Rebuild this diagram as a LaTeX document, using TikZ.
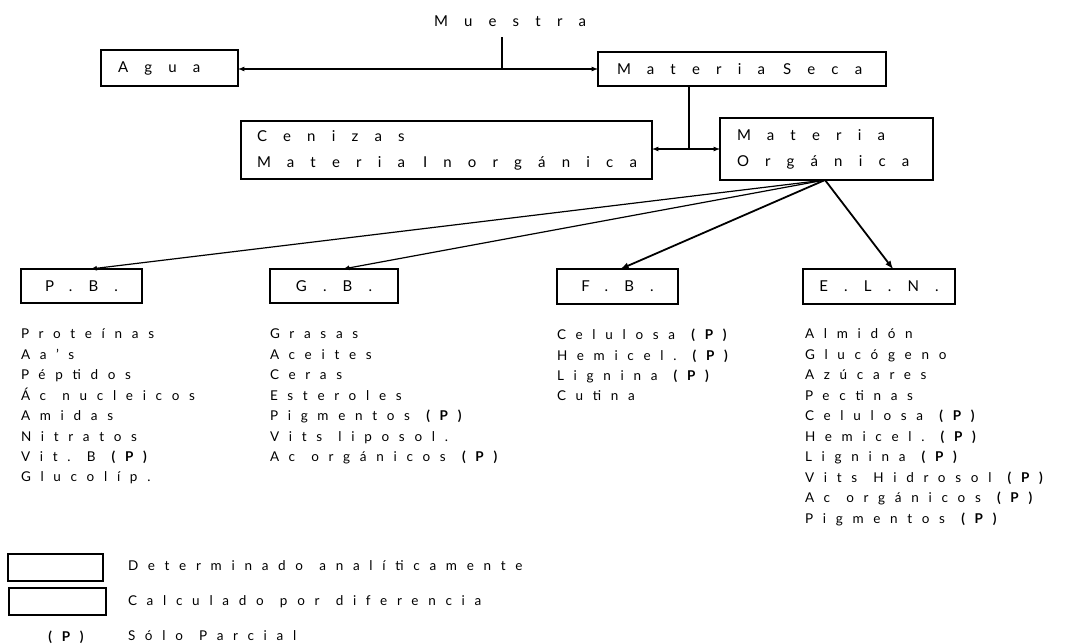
\documentclass[tikz,border=0pt]{standalone}
\usepackage{fontspec}
\setmainfont{Lato}
\usepackage{tikz}
\usetikzlibrary{positioning}
\usetikzlibrary{arrows}

\newcommand{\rotulo}{\fontsize{15}{26}\selectfont\addfontfeature{LetterSpace=108}}
\newcommand{\lista}{\fontsize{13.5}{20.45}\selectfont\addfontfeature{LetterSpace=72}}
\newcommand{\blanco}{\hspace{1.2em}}
\newcommand{\parcial}{{\bfseries(P)}}

\tikzset{
  medido/.style={draw,line width=1.2pt,anchor=north west,inner sep=0pt,align=left,font=\rotulo},
  calculado/.style={medido,line width=2.6pt},
  renglones/.style={anchor=north west,inner sep=0pt,align=left,font=\lista},
  flecha/.style={->,>=latex,line width=1.2pt}
}

\begin{document}
\begin{tikzpicture}[x=1pt,y=-1pt,every node/.style={outer sep=0pt}]
	\useasboundingbox (0,0) rectangle (1086,643);
	% muestra y primera division
	\node (muestra) [inner sep=0pt,font=\rotulo] at (510,21) {Muestra};
	\node (agua) [calculado,minimum width=137pt,minimum height=36pt,text width=103pt] at (101,50) {Agua};
	\node (seca) [medido,minimum width=288pt,minimum height=34pt,text width=250pt] at (598,52) {Materia\blanco Seca};
	\coordinate (bifurca) at (502,69);
	\draw[line width=1.2pt] (502,37) -- (bifurca);
	\draw[flecha] (bifurca) -- (agua.east |- bifurca);
	\draw[flecha] (bifurca) -- (seca.west |- bifurca);
	% cenizas y materia organica
	\node (cenizas) [medido,minimum width=411pt,minimum height=58pt,text width=379pt] at (241,121) {Cenizas\\Materia\blanco Inorgánica};
	\node (organica) [calculado,minimum width=213pt,minimum height=62pt,text width=179pt] at (720,118) {Materia\\Orgánica};
	\coordinate (ramal) at (689,149);
	\draw[line width=1.2pt] (seca.south -| ramal) -- (ramal);
	\draw[flecha] (ramal) -- (cenizas.east |- ramal);
	\draw[flecha] (ramal) -- (organica.west |- ramal);
	% fracciones
	\node (pb) [medido,minimum width=121pt,minimum height=34pt,align=center] at (21,269) {P.B.};
	\node (gb) [medido,minimum width=128pt,minimum height=34pt,align=center] at (270,269) {G.B.};
	\node (fb) [medido,minimum width=121pt,minimum height=35pt,align=center] at (557,269) {F.B.};
	\node (eln) [calculado,minimum width=152pt,minimum height=35pt,align=center] at (803,269) {E.L.N.};
	\coordinate (salida) at (825,180);
	\draw[flecha] (salida) -- ([xshift=9pt]pb.north);
	\draw[flecha] (salida) -- ([xshift=9pt]gb.north);
	\draw[flecha,line width=1.8pt] (salida) -- ([xshift=3pt]fb.north);
	\draw[flecha,line width=1.8pt] (salida) -- ([xshift=14pt]eln.north);
	% contenido de cada fraccion
	\node (pblista) [renglones] at (21,329) {Proteínas\\Aa's\\Péptidos\\Ác\blanco nucleicos\\Amidas\\Nitratos\\Vit.\blanco B\blanco\parcial\\Glucolíp.};
	\node (gblista) [renglones] at (270,329) {Grasas\\Aceites\\Ceras\\Esteroles\\Pigmentos\blanco\parcial\\Vits\blanco liposol.\\Ac\blanco orgánicos\blanco\parcial};
	\node (fblista) [renglones] at (557,329) {Celulosa\blanco\parcial\\Hemicel.\blanco\parcial\\Lignina\blanco\parcial\\Cutina};
	\node (elnlista) [renglones] at (805,329) {Almidón\\Glucógeno\\Azúcares\\Pectinas\\Celulosa\blanco\parcial\\Hemicel.\blanco\parcial\\Lignina\blanco\parcial\\Vits\blanco Hidrosol\blanco\parcial\\Ac\blanco orgánicos\blanco\parcial\\Pigmentos\blanco\parcial};
	% leyenda
	\node (ley1) [medido,minimum width=95pt,minimum height=27pt] at (8,554) {};
	\node (ley2) [calculado,minimum width=97pt,minimum height=27pt] at (9,588) {};
	\node (ley3) [inner sep=0pt,font=\lista,anchor=base] at (66,641) {\parcial};
	\node (ley1t) [renglones,anchor=base west] at (128,570) {Determinado\blanco analíticamente};
	\node (ley2t) [renglones,anchor=base west] at (128,605) {Calculado\blanco por\blanco diferencia};
	\node (ley3t) [renglones,anchor=base west] at (128,640) {Sólo\blanco Parcial};
\end{tikzpicture}
\end{document}
